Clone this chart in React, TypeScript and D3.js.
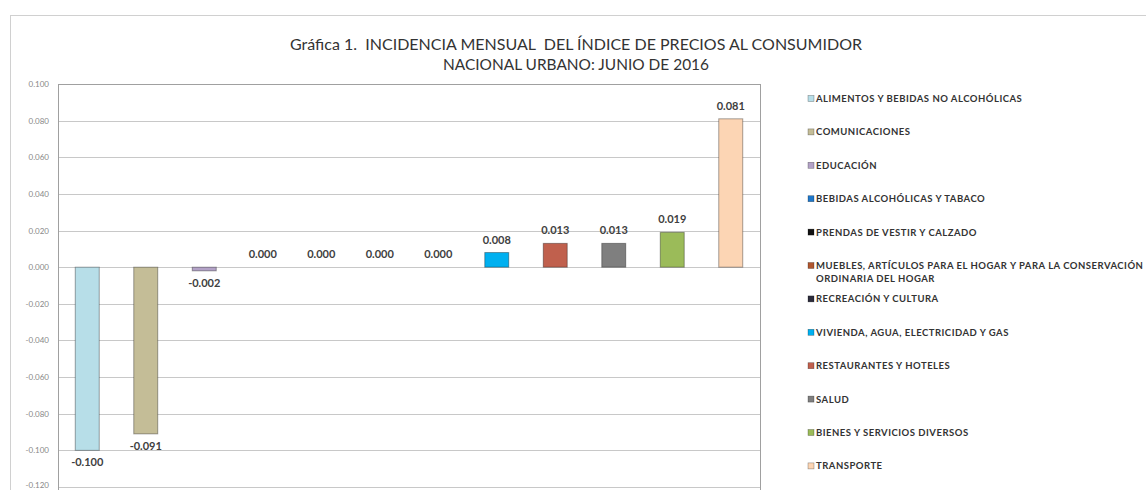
import { useEffect, useRef } from 'react';
import * as d3 from 'd3';

const categories = [
  'ALIMENTOS Y BEBIDAS NO ALCOHÓLICAS',
  'COMUNICACIONES',
  'EDUCACIÓN',
  'BEBIDAS ALCOHÓLICAS Y TABACO',
  'PRENDAS DE VESTIR Y CALZADO',
  'MUEBLES, ARTÍCULOS PARA EL HOGAR Y PARA LA CONSERVACIÓN|ORDINARIA DEL HOGAR',
  'RECREACIÓN Y CULTURA',
  'VIVIENDA, AGUA, ELECTRICIDAD Y GAS',
  'RESTAURANTES Y HOTELES',
  'SALUD',
  'BIENES Y SERVICIOS DIVERSOS',
  'TRANSPORTE',
];
const values = [-0.1, -0.091, -0.002, 0, 0, 0, 0, 0.008, 0.013, 0.013, 0.019, 0.081];
const colors = [
  '#b7dee8', '#c4bd97', '#b3a2c7', '#1f77c9', '#111111', '#b0572f',
  '#2b2b3a', '#00b0f0', '#c0604d', '#7f7f7f', '#9bbb59', '#fcd5b4',
];
const yTicks = [0.1, 0.08, 0.06, 0.04, 0.02, 0, -0.02, -0.04, -0.06, -0.08, -0.1, -0.12];
const titleLines = [
  'Gráfica 1.  INCIDENCIA MENSUAL  DEL ÍNDICE DE PRECIOS AL CONSUMIDOR',
  'NACIONAL URBANO: JUNIO DE 2016',
];
const titleWidths = [572, 266];

const fmt = (d: number) => d3.format('.3f')(d).replace('−', '-');

export default function App() {
  const svgRef = useRef<SVGSVGElement>(null);

  useEffect(() => {
    const width = 1146;
    const height = 490;
    const svg = d3.select(svgRef.current).attr('width', width).attr('height', height);
    svg.selectAll('*').remove();

    const left = 58, right = 760, top = 84;

    const x = d3.scaleBand<number>()
      .domain(d3.range(values.length))
      .range([left, right])
      .paddingInner(0.59)
      .paddingOuter(0.295);
    const y = d3.scaleLinear().domain([-0.12, 0.1]).range([487, top]);

    // outer frame
    svg.append('rect')
      .attr('x', 10.5).attr('y', 15.5)
      .attr('width', width).attr('height', height)
      .attr('fill', '#fff')
      .attr('stroke', '#d0d0d0');

    // title
    svg.selectAll('.title')
      .data(titleLines)
      .enter().append('text')
      .attr('x', 576)
      .attr('y', (d, i) => 50 + i * 20)
      .attr('text-anchor', 'middle')
      .attr('font-family', 'Lato, sans-serif')
      .attr('font-size', 15)
      .attr('fill', '#333')
      .attr('textLength', (d, i) => titleWidths[i])
      .attr('lengthAdjust', 'spacingAndGlyphs')
      .style('white-space', 'pre')
      .text(d => d);

    // gridlines
    svg.append('g')
      .selectAll('line')
      .data(yTicks)
      .enter().append('line')
      .attr('x1', left).attr('x2', right)
      .attr('y1', d => Math.round(y(d)) + 0.5)
      .attr('y2', d => Math.round(y(d)) + 0.5)
      .attr('stroke', d => (d === 0.1 ? '#a0a0a0' : '#c8c8c8'))
      .attr('stroke-width', 1.2);

    // plot border sides
    svg.append('line')
      .attr('x1', left + 0.5).attr('x2', left + 0.5)
      .attr('y1', top).attr('y2', height)
      .attr('stroke', '#a0a0a0');
    svg.append('line')
      .attr('x1', right + 0.5).attr('x2', right + 0.5)
      .attr('y1', top).attr('y2', height)
      .attr('stroke', '#a0a0a0');

    // y tick labels
    svg.append('g')
      .selectAll('text')
      .data(yTicks)
      .enter().append('text')
      .attr('x', 49)
      .attr('y', d => Math.min(y(d) + 3, 488))
      .attr('text-anchor', 'end')
      .attr('font-family', 'Lato, sans-serif')
      .attr('font-size', 8)
      .attr('fill', '#888')
      .text(d => fmt(d));

    // bars
    svg.append('g')
      .selectAll('rect')
      .data(values)
      .enter().append('rect')
      .attr('x', (d, i) => x(i)!)
      .attr('width', x.bandwidth())
      .attr('y', d => y(Math.max(0, d)))
      .attr('height', d => Math.abs(y(d) - y(0)))
      .attr('fill', (d, i) => colors[i])
      .attr('stroke', 'rgba(0,0,0,0.35)')
      .attr('stroke-width', 1);

    // data labels
    svg.append('g')
      .selectAll('text')
      .data(values)
      .enter().append('text')
      .attr('x', (d, i) => x(i)! + x.bandwidth() / 2)
      .attr('y', d => (d < 0 ? y(d) + 16 : y(d) - 9))
      .attr('text-anchor', 'middle')
      .attr('font-family', 'Lato, sans-serif')
      .attr('font-weight', 'bold')
      .attr('font-size', 11)
      .attr('fill', '#404040')
      .text(d => fmt(d));

    // legend
    const leg = svg.append('g');
    const items = leg.selectAll('g')
      .data(categories)
      .enter().append('g')
      .attr('transform', (d, i) => `translate(808,${102 + i * 33.4})`);
    items.append('rect')
      .attr('x', 0).attr('y', -6.5)
      .attr('width', 6).attr('height', 6)
      .attr('fill', (d, i) => colors[i])
      .attr('stroke', 'rgba(0,0,0,0.4)')
      .attr('stroke-width', 0.6);
    items.each(function (d) {
      const parts = d.split('|');
      parts.forEach((p, j) => {
        d3.select(this).append('text')
          .attr('x', 8)
          .attr('y', j * 13)
          .attr('font-family', 'Lato, sans-serif')
          .attr('font-weight', 'bold')
          .attr('font-size', 9.5)
          .attr('letter-spacing', 0.5)
          .attr('fill', '#333')
          .text(p);
      });
    });
  }, []);

  return <svg ref={svgRef} style={{ position: 'absolute', left: 0, top: 0 }}></svg>;
}
